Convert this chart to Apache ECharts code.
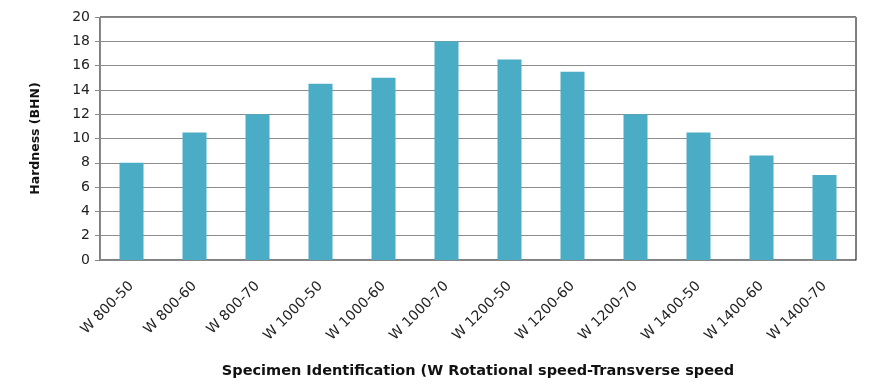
<!DOCTYPE html>
<html><head><meta charset="utf-8">
<script src="https://cdn.jsdelivr.net/npm/echarts@6/dist/echarts.min.js"></script>
<style>html,body{margin:0;padding:0;background:#fff}#c{width:875px;height:387px}</style>
</head><body><div id="c"></div>
<script>
var categories = ["W 800-50","W 800-60","W 800-70","W 1000-50","W 1000-60","W 1000-70","W 1200-50","W 1200-60","W 1200-70","W 1400-50","W 1400-60","W 1400-70"];
var hardness = [8, 10.5, 12, 14.5, 15, 18, 16.5, 15.5, 12, 10.5, 8.6, 7];
var yTicks = {min: 0, max: 20, interval: 2};
var xTitle = "Specimen Identification (W Rotational speed-Transverse speed";
var yTitle = "Hardness (BHN)";

var chart = echarts.init(document.getElementById('c'), null, {renderer: 'canvas'});
chart.setOption({
  animation: false,
  grid: {left: 100, right: 19, top: 17, bottom: 127, outerBoundsMode: 'none', containLabel: false, show: true, borderColor: '#000', borderWidth: 1, backgroundColor: 'transparent'},
  xAxis: {
    type: 'category', data: categories,
    axisLine: {show: true, lineStyle: {color: '#888', width: 1}},
    axisTick: {show: false},
    axisLabel: {rotate: 45, interval: 0, color: '#222', fontFamily: 'DejaVu Sans', fontSize: 14, margin: 24},
    name: xTitle, nameLocation: 'middle', nameGap: 104,
    nameTextStyle: {fontWeight: 'bold', fontSize: 14.5, color: '#111', fontFamily: 'DejaVu Sans'}
  },
  yAxis: {
    type: 'value', min: yTicks.min, max: yTicks.max, interval: yTicks.interval,
    axisLine: {show: true, lineStyle: {color: '#888'}},
    axisTick: {show: true, length: 5, inside: false, lineStyle: {color: '#888'}},
    splitLine: {lineStyle: {color: '#8c8c8c', width: 1}},
    axisLabel: {color: '#222', fontFamily: 'DejaVu Sans', fontSize: 14, margin: 10},
    name: yTitle, nameLocation: 'middle', nameGap: 58, nameRotate: 90,
    nameTextStyle: {fontWeight: 'bold', fontSize: 12.5, color: '#111', fontFamily: 'DejaVu Sans'}
  },
  series: [{type: 'bar', data: hardness, barWidth: 24, itemStyle: {color: '#4bacc6'}}]
});
</script></body></html>
